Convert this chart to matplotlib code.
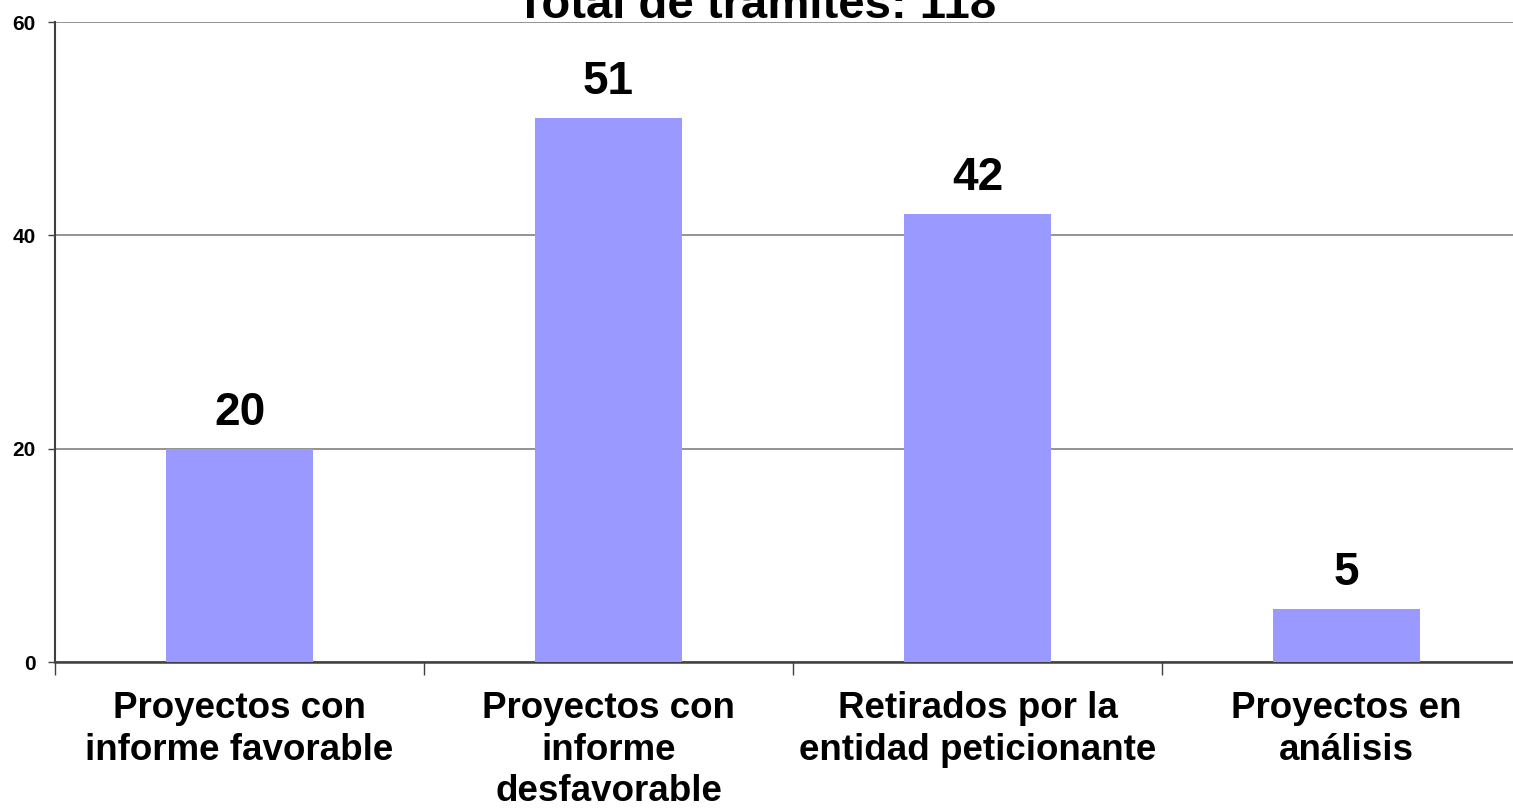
import matplotlib
matplotlib.use('Agg')
import matplotlib.pyplot as plt
import numpy as np

plt.rcParams['font.family'] = ['Liberation Sans', 'DejaVu Sans']
plt.rcParams['font.weight'] = 'bold'

# ── Data ─────────────────────────────────────────────────────────────────────
categorias = ['Proyectos con\ninforme favorable',
              'Proyectos con\ninforme\ndesfavorable',
              'Retirados por la\nentidad peticionante',
              'Proyectos en\nanálisis']
valores = [20, 51, 42, 5]
titulo = 'Total de trámites: 118'
y_ticks = [0, 20, 40, 60]

BAR_COLOR = '#9999FF'

# ── Figure ───────────────────────────────────────────────────────────────────
fig = plt.figure(figsize=(15.13, 8.09), dpi=100)
ax = fig.add_axes([55 / 1513, 147 / 809, 1476 / 1513, 640 / 809])

x = np.arange(len(valores)) + 0.5
ax.bar(x, valores, width=0.4, color=BAR_COLOR, zorder=3)

for xi, v in zip(x, valores):
    ax.annotate(str(v), (xi, v), xytext=(0, 10), textcoords='offset points',
                ha='center', va='bottom', fontsize=33, fontweight='bold')

ax.set_xlim(0, 4)
ax.set_ylim(0, 60)
ax.set_yticks(y_ticks)
ax.set_yticklabels([str(t) for t in y_ticks], fontsize=15, fontweight='bold')
ax.yaxis.grid(True, color='#808080', lw=1.2, zorder=0)

ax.set_xticks([0, 1, 2, 3, 4])
ax.set_xticklabels([])
ax.set_xticks(x, minor=True)
ax.set_xticklabels(categorias, minor=True, fontsize=26.5, fontweight='bold',
                   linespacing=1.24)
ax.tick_params(axis='x', which='major', direction='out', length=9,
               color='#404040', width=1)
ax.tick_params(axis='x', which='minor', length=0, pad=21)
ax.tick_params(axis='y', direction='out', length=5, color='#404040', width=1,
               pad=9)

for s in ['top', 'right']:
    ax.spines[s].set_visible(False)
ax.spines['left'].set_color('#404040')
ax.spines['bottom'].set_color('#404040')
ax.spines['bottom'].set_linewidth(1.8)
ax.spines['left'].set_linewidth(1.5)

fig.text(0.5, (809 - 18) / 809, titulo, ha='center', va='baseline',
         fontsize=34, fontweight='bold')

fig.savefig('out.png', dpi=100)
